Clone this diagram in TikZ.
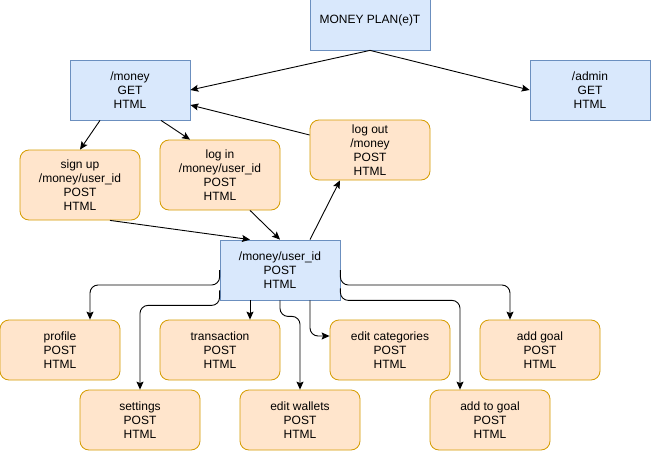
\documentclass[tikz,border=0pt]{standalone}
\usepackage{fontspec}
\setmainfont{Liberation Sans}
\usetikzlibrary{arrows.meta}

\begin{document}
\begin{tikzpicture}[x=1pt,y=-1pt,
  routeBox/.style={draw=routeDraw,fill=routeFill,line width=0.8pt,minimum width=120pt,minimum height=60pt,
    inner sep=0pt,align=center,font=\fontsize{12}{14}\selectfont},
  actionBox/.style={routeBox,draw=actionDraw,fill=actionFill,rounded corners=9pt},
  link/.style={draw=black,line width=0.9pt,rounded corners=8pt,-{Stealth[length=8pt,width=7pt,inset=1.5pt]}}]
\definecolor[named]{routeFill}{rgb}{0.85,0.91,0.99}
\definecolor[named]{routeDraw}{rgb}{0.42,0.56,0.75}
\definecolor[named]{actionFill}{rgb}{1.00,0.90,0.80}
\definecolor[named]{actionDraw}{rgb}{0.84,0.61,0.00}
\path[use as bounding box,fill=white] (0,0) rectangle (651,452);

\node[routeBox] (plan) at (370, 20) {MONEY PLAN(e)T};
\node[routeBox] (money) at (130, 90) {/money\\GET\\HTML};
\node[routeBox] (admin) at (590, 90) {/admin\\GET\\HTML};

\node[actionBox,minimum height=70pt] (signup) at ( 80,185) {sign up\\/money/user\_id\\POST\\HTML};
\node[actionBox,minimum height=70pt] (login) at (220,175) {log in\\/money/user\_id\\POST\\HTML};
\node[actionBox] (logout) at (370,150) {log out\\/money\\POST\\HTML};

\node[routeBox] (user) at (280,270) {/money/user\_id\\POST\\HTML};

\node[actionBox] (profile) at ( 60,350) {profile\\POST\\HTML};
\node[actionBox] (transaction) at (220,350) {transaction\\POST\\HTML};
\node[actionBox] (categories) at (390,350) {edit categories\\POST\\HTML};
\node[actionBox] (addgoal) at (540,350) {add goal\\POST\\HTML};
\node[actionBox] (settings) at (140,420) {settings\\POST\\HTML};
\node[actionBox] (wallets) at (300,420) {edit wallets\\POST\\HTML};
\node[actionBox] (addtogoal) at (490,420) {add to goal\\POST\\HTML};

\draw[link] (plan.south) -- (money.east);
\draw[link] (plan.south) -- (admin.west);
\draw[link] ([xshift=-30pt]money.south) -- (signup.north);
\draw[link] ([xshift=31pt]money.south) -- ([xshift=-30pt]login.north);
\draw[link] ([yshift=15pt]logout.west) -- ([yshift=-15pt]money.east);
\draw[link] ([xshift=30pt]signup.south) -- ([xshift=-30pt]user.north);
\draw[link] ([xshift=30pt]login.south) -- (user.north);
\draw[link] ([xshift=30pt]user.north) -- ([xshift=-30pt]logout.south);

\draw[link] (user.west) -- ++(0,15) -| ([xshift=30pt]profile.north);
\draw[link] ([yshift=10pt]user.south west) -- ++(0,15) -| (settings.north);
\draw[link] ([xshift=-30pt]user.south) -- ([xshift=30pt]transaction.north);
\draw[link] (user.south) -- ++(0,16) -| (wallets.north);
\draw[link] ([xshift=30pt]user.south) |- ([yshift=14pt]categories.west);
\draw[link] ([yshift=12pt]user.south east) -- (user.south east) -| ([xshift=-30pt]addtogoal.north);
\draw[link] (user.east) -- ++(0,15) -| ([xshift=-30pt]addgoal.north);
\end{tikzpicture}
\end{document}
